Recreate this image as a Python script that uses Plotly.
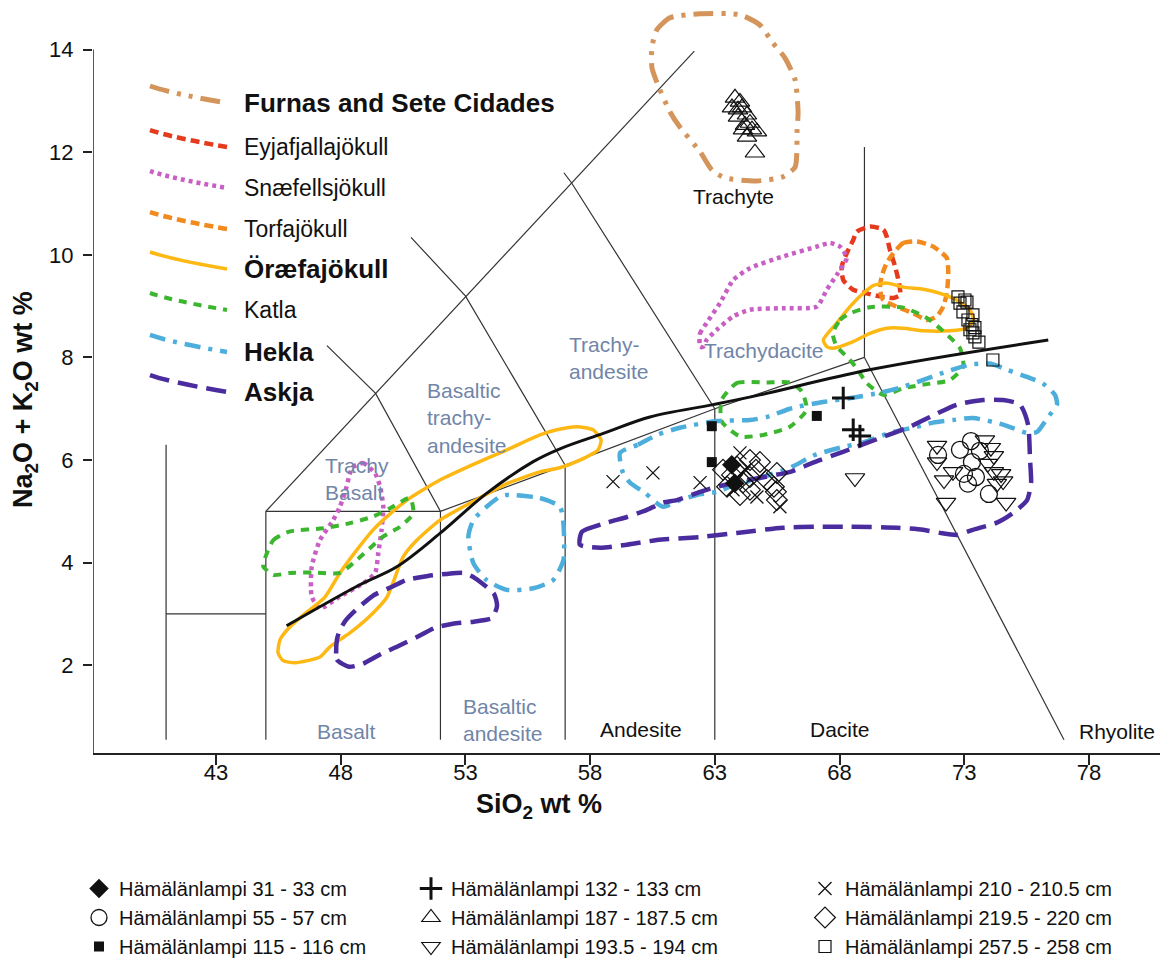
import plotly.graph_objects as go

# ------------------------------------------------------------------ data
X_RANGE = [38.07, 80.85]
Y_RANGE = [0.29, 14.85]
X_TICKS = [43, 48, 53, 58, 63, 68, 73, 78]
Y_TICKS = [2, 4, 6, 8, 10, 12, 14]

# TAS field boundaries (polylines)
TAS_X = [[41, 41], [41, 45], [45, 45], [45, 52], [52, 52], [57, 57], [63, 63],
         [52, 57, 63, 69], [69, 77.0], [69, 69], [45, 62.18],
         [47.45, 49.4, 52], [50.82, 53, 57], [56.95, 57.26, 63]]
TAS_Y = [[0.55, 6.3], [3, 3], [0.55, 5], [5, 5], [0.55, 5], [0.55, 5.9], [0.55, 7],
         [5, 5.9, 7, 8], [8, 0.55], [8, 12.1], [5, 13.97],
         [8.23, 7.3, 5], [10.34, 9.2, 5.9], [11.60, 11.40, 7]]

# alkaline / sub-alkaline divide
ALK_X = [45.83, 48.77, 50.25, 51.98, 53.85, 55.72, 56.79, 58.53, 60.40, 62.93, 64.81, 69.20, 76.37]
ALK_Y = [2.77, 3.57, 3.92, 4.57, 5.35, 5.97, 6.22, 6.52, 6.84, 7.08, 7.27, 7.76, 8.34]

# volcanic-system envelopes
FURNAS_X = [62.41, 61.20, 60.68, 60.48, 60.48, 60.72, 61.20, 61.60, 62.41, 62.89, 63.41, 64.69, 65.73,
            66.22, 66.30, 66.34, 66.22, 65.81, 65.33, 64.81, 64.01]
FURNAS_Y = [14.70, 14.62, 14.39, 14.05, 13.65, 13.31, 12.79, 12.49, 12.01, 11.65, 11.50, 11.44, 11.52,
            11.71, 12.44, 12.77, 13.41, 13.84, 14.13, 14.48, 14.68]

EYJA_X = [68.69, 69.22, 69.76, 69.89, 70.02, 70.23, 70.36, 70.43, 70.16, 69.62, 69.09, 68.55, 68.15,
          68.09, 68.29, 68.55]
EYJA_Y = [10.45, 10.55, 10.49, 10.36, 10.10, 9.77, 9.51, 9.22, 9.16, 9.19, 9.25, 9.32, 9.51,
          9.77, 10.03, 10.29]

SNAEF_UP_X = [62.41, 62.41, 62.67, 63.21, 63.74, 64.41, 65.75, 67.09, 67.62, 68.02, 68.29, 67.89,
              67.49, 67.09, 65.75, 64.41, 63.74, 63.08, 62.67, 62.54]
SNAEF_UP_Y = [8.21, 8.47, 8.67, 9.06, 9.51, 9.74, 9.97, 10.16, 10.23, 10.16, 9.94, 9.61,
              9.32, 8.99, 8.96, 8.93, 8.80, 8.54, 8.34, 8.21]
SNAEF_LO_X = [48.51, 48.91, 49.38, 49.58, 49.71, 49.64, 49.51, 49.38, 48.91, 47.97, 47.17, 46.84,
              46.84, 47.17, 47.70, 47.97, 48.24, 48.37]
SNAEF_LO_Y = [5.87, 5.94, 5.74, 5.48, 5.09, 4.64, 4.19, 3.80, 3.60, 3.34, 3.11, 3.34,
              3.92, 4.44, 4.83, 5.09, 5.48, 5.74]

TORFA_X = [70.16, 70.56, 71.10, 71.76, 72.30, 72.36, 72.30, 72.16, 71.90, 71.50, 70.96, 70.29,
           69.76, 69.62, 69.69, 69.89]
TORFA_Y = [10.03, 10.23, 10.26, 10.16, 9.94, 9.64, 9.25, 8.99, 8.80, 8.73, 8.86, 8.99,
           9.12, 9.32, 9.58, 9.84]

ORAEFA_UP_X = [67.35, 67.89, 68.42, 68.95, 69.35, 69.89, 70.56, 71.36, 72.03, 72.70, 73.23, 73.36,
               73.10, 72.43, 71.36, 70.56, 69.89, 69.22, 68.55, 67.75, 67.49]
ORAEFA_UP_Y = [8.34, 8.67, 8.99, 9.25, 9.40, 9.45, 9.37, 9.33, 9.25, 9.12, 8.93, 8.73,
               8.57, 8.52, 8.52, 8.57, 8.57, 8.47, 8.31, 8.18, 8.21]
ORAEFA_LO_X = [45.57, 45.97, 46.65, 47.37, 47.97, 48.65, 49.30, 49.70, 50.66, 51.98, 53.30, 54.67,
               55.99, 56.67, 57.47, 58.12, 58.44, 58.32, 57.59, 56.79, 55.99, 54.67, 53.30, 51.98,
               51.06, 50.50, 50.10, 49.86, 49.30, 48.37, 47.57, 47.17, 46.17, 45.69, 45.49]
ORAEFA_LO_Y = [2.50, 2.75, 3.04, 3.33, 3.80, 4.25, 4.64, 4.83, 5.22, 5.61, 5.91, 6.20,
               6.49, 6.59, 6.65, 6.59, 6.39, 6.20, 6.00, 5.85, 5.77, 5.54, 5.19, 4.83,
               4.44, 4.11, 3.61, 3.33, 3.02, 2.63, 2.36, 2.16, 2.05, 2.09, 2.24]

KATLA_UP_X = [67.73, 68.02, 68.42, 69.22, 70.56, 71.50, 72.16, 72.83, 72.96, 72.43, 71.50, 70.56,
              69.76, 69.09, 68.69, 68.29, 67.89]
KATLA_UP_Y = [8.47, 8.73, 8.86, 8.98, 8.97, 8.77, 8.51, 8.18, 7.82, 7.56, 7.48, 7.40,
              7.27, 7.50, 7.79, 8.02, 8.21]
KATLA_MID_X = [63.27, 63.88, 65.08, 66.01, 66.48, 66.68, 66.01, 64.94, 64.01, 63.28]
KATLA_MID_Y = [7.17, 7.50, 7.51, 7.51, 7.34, 6.98, 6.65, 6.49, 6.46, 6.75]
KATLA_LO_X = [44.90, 45.30, 45.97, 47.30, 48.37, 49.31, 49.98, 50.78, 50.91, 50.38, 49.71, 48.64,
              47.97, 46.90, 45.97, 45.30, 44.90]
KATLA_LO_Y = [3.99, 4.44, 4.61, 4.67, 4.77, 4.90, 5.06, 5.26, 4.96, 4.70, 4.51, 4.05,
              3.80, 3.81, 3.80, 3.76, 3.92]

HEKLA_SM_X = [54.66, 55.99, 56.79, 56.93, 56.93, 56.52, 55.72, 54.66, 53.85, 53.32, 53.12, 53.32,
              53.85, 54.39]
HEKLA_SM_Y = [5.32, 5.26, 5.09, 4.77, 4.05, 3.66, 3.50, 3.47, 3.66, 3.99, 4.51, 4.83,
              5.09, 5.29]
HEKLA_BIG_X = [59.20, 59.92, 60.68, 61.60, 63.09, 64.41, 65.09, 66.14, 67.34, 68.70, 69.62, 70.43,
               71.11, 72.15, 73.23, 74.03, 74.72, 75.52, 76.16, 76.64, 76.72, 76.36, 75.92, 75.52,
               74.56, 73.35, 72.55, 71.75, 71.11, 70.02, 68.94, 68.02, 67.02, 66.01, 64.81, 63.61,
               63.09, 62.29, 61.60, 60.92, 60.20, 59.60, 59.32]
HEKLA_BIG_Y = [6.14, 6.30, 6.49, 6.63, 6.76, 6.78, 6.84, 7.02, 7.13, 7.23, 7.31, 7.41,
               7.52, 7.70, 7.86, 7.88, 7.76, 7.62, 7.49, 7.27, 7.08, 6.84, 6.55, 6.53,
               6.69, 6.82, 6.78, 6.73, 6.65, 6.53, 6.34, 6.24, 6.10, 5.85, 5.65, 5.48,
               5.38, 5.32, 5.22, 5.09, 5.36, 5.56, 5.75]

ASKJA_SM_X = [47.85, 47.85, 48.33, 48.89, 49.62, 50.34, 51.06, 51.78, 52.50, 53.34, 54.07, 54.27,
              54.15, 53.38, 52.94, 52.22, 51.50, 50.62, 50.06, 49.34, 48.61, 48.21, 47.97]
ASKJA_SM_Y = [2.50, 2.11, 1.97, 2.03, 2.22, 2.38, 2.55, 2.73, 2.81, 2.85, 2.92, 3.16,
              3.39, 3.70, 3.80, 3.78, 3.74, 3.66, 3.53, 3.37, 3.08, 2.88, 2.69]
ASKJA_BIG_X = [57.59, 57.67, 58.68, 59.48, 60.28, 60.92, 61.48, 62.41, 62.93, 64.29, 66.03, 66.94,
               68.14, 69.74, 70.83, 71.63, 72.71, 73.75, 74.56, 75.24, 75.56, 75.64, 75.68, 75.52,
               74.96, 74.31, 73.35, 72.71, 72.03, 71.35, 70.31, 68.42, 67.12, 65.73, 63.89, 62.41,
               60.68, 59.48, 58.40]
ASKJA_BIG_Y = [4.35, 4.60, 4.78, 4.89, 5.03, 5.17, 5.22, 5.38, 5.46, 5.61, 5.77, 5.95,
               6.16, 6.45, 6.65, 6.84, 7.08, 7.17, 7.17, 7.08, 6.69, 6.00, 5.56, 5.22,
               4.97, 4.78, 4.64, 4.54, 4.58, 4.64, 4.68, 4.70, 4.70, 4.68, 4.58, 4.50,
               4.44, 4.35, 4.29]

VOLCANO_NAMES = ["Furnas and Sete Cidades", "Eyjafjallajökull", "Snæfellsjökull", "Torfajökull",
                 "Öræfajökull", "Katla", "Hekla", "Askja"]
VOLCANO_BOLD = [True, False, False, False, True, False, True, True]
VOLCANO_PIECES = [
    [(FURNAS_X, FURNAS_Y)],
    [(EYJA_X, EYJA_Y)],
    [(SNAEF_UP_X, SNAEF_UP_Y), (SNAEF_LO_X, SNAEF_LO_Y)],
    [(TORFA_X, TORFA_Y)],
    [(ORAEFA_UP_X, ORAEFA_UP_Y), (ORAEFA_LO_X, ORAEFA_LO_Y)],
    [(KATLA_UP_X, KATLA_UP_Y), (KATLA_MID_X, KATLA_MID_Y), (KATLA_LO_X, KATLA_LO_Y)],
    [(HEKLA_SM_X, HEKLA_SM_Y), (HEKLA_BIG_X, HEKLA_BIG_Y)],
    [(ASKJA_SM_X, ASKJA_SM_Y), (ASKJA_BIG_X, ASKJA_BIG_Y)],
]

# tephra samples (Hämälänlampi)
S31_X = [63.68, 63.80]
S31_Y = [5.91, 5.55]
S55_X = [71.95, 72.83, 73.27, 73.63, 73.31, 72.99, 73.47, 73.15, 73.99]
S55_Y = [6.10, 6.20, 6.37, 6.18, 5.96, 5.73, 5.67, 5.54, 5.34]
S115_X = [62.88, 62.88, 67.09]
S115_Y = [6.66, 5.96, 6.86]
S132_X = [68.15, 68.55, 68.82]
S132_Y = [7.21, 6.59, 6.47]
S187_X = [63.81, 64.01, 63.69, 64.09, 64.29, 63.93, 64.41, 64.13, 64.49, 64.69, 64.29, 64.61, 63.93, 64.21]
S187_Y = [13.06, 12.98, 12.87, 12.87, 12.73, 12.69, 12.57, 12.44, 12.44, 12.40, 12.30, 11.99, 12.83, 12.53]
S193_X = [68.62, 71.91, 71.91, 72.19, 72.55, 72.27, 73.83, 74.07, 74.19, 73.95, 74.19, 74.48, 74.56, 74.31, 74.68]
S193_Y = [5.65, 6.28, 5.96, 5.61, 5.77, 5.17, 6.39, 6.24, 6.08, 5.93, 5.77, 5.73, 5.59, 5.54, 5.17]
S210_X = [58.92, 60.52, 62.41, 64.01, 63.89, 64.69, 65.61, 63.73, 64.21]
S210_Y = [5.58, 5.75, 5.56, 6.14, 5.65, 5.28, 5.09, 5.42, 5.81]
S219_X = [63.33, 63.89, 64.41, 64.81, 65.49, 64.41, 65.09, 65.37, 65.45, 65.49, 64.13, 63.69, 64.41, 63.49, 64.01, 64.65]
S219_Y = [5.81, 5.87, 6.00, 5.96, 5.75, 5.67, 5.61, 5.48, 5.38, 5.22, 5.56, 5.71, 5.42, 5.48, 5.32, 5.81]
S257_X = [72.75, 73.03, 73.11, 72.83, 72.95, 73.35, 73.15, 73.31, 73.43, 73.23, 73.35, 73.43, 73.59, 74.15]
S257_Y = [9.18, 9.12, 9.08, 9.06, 8.89, 8.83, 8.73, 8.64, 8.58, 8.54, 8.48, 8.40, 8.30, 7.95]

SAMPLE_NAMES = ["Hämälänlampi 31 - 33 cm", "Hämälänlampi 55 - 57 cm", "Hämälänlampi 115 - 116 cm",
                "Hämälänlampi 132 - 133 cm", "Hämälänlampi 187 - 187.5 cm", "Hämälänlampi 193.5 - 194 cm",
                "Hämälänlampi 210 - 210.5 cm", "Hämälänlampi 219.5 - 220 cm", "Hämälänlampi 257.5 - 258 cm"]
SAMPLE_DATA = [(S31_X, S31_Y), (S55_X, S55_Y), (S115_X, S115_Y), (S132_X, S132_Y), (S187_X, S187_Y),
               (S193_X, S193_Y), (S210_X, S210_Y), (S219_X, S219_Y), (S257_X, S257_Y)]

FIELD_LABELS = ["Trachyte", "Trachydacite", "Trachy-<br>andesite", "Basaltic<br>trachy-<br>andesite",
                "Trachy<br>Basalt", "Basalt", "Basaltic<br>andesite", "Andesite", "Dacite", "Rhyolite"]
FIELD_X = [63.73, 64.95, 57.07, 51.38, 47.29, 48.25, 52.82, 60.04, 68.02, 80.72]
FIELD_Y = [11.13, 8.13, 7.99, 6.82, 5.63, 0.70, 0.94, 0.74, 0.74, 0.70]

# ------------------------------------------------------------------ styles
FONT = "Liberation Sans, Arial, sans-serif"
BLUEGREY = "#7185A8"
VOLCANO_STYLE = [
    dict(color="#D4955C", width=5, dash="20px,8px,4px,8px,4px,8px"),
    dict(color="#E63A1F", width=4.5, dash="9px,5px"),
    dict(color="#C95FC5", width=4.5, dash="4px,4px"),
    dict(color="#F28A1E", width=4.5, dash="9px,5px"),
    dict(color="#FDB813", width=3.5, dash="solid"),
    dict(color="#3CB62E", width=4, dash="8px,7px"),
    dict(color="#4DAEDB", width=4.5, dash="16px,8px,4px,8px"),
    dict(color="#4A2C9E", width=4.5, dash="20px,9px"),
]
FIELD_ANCHOR = ["center", "center", "left", "left", "left", "center", "left", "center", "center", "right"]
FIELD_COLOR = ["#111", BLUEGREY, BLUEGREY, BLUEGREY, BLUEGREY, BLUEGREY, BLUEGREY, "#111", "#111", "#111"]

SAMPLE_MARKERS = [
    dict(symbol="diamond", size=15, color="#111"),
    dict(symbol="circle-open", size=17, color="#111", line=dict(width=1.3)),
    dict(symbol="square", size=10, color="#111"),
    dict(symbol="cross-thin-open", size=16, color="#111", line=dict(width=3)),
    dict(symbol="triangle-up-open", size=17, color="#111", line=dict(width=1.2)),
    dict(symbol="triangle-down-open", size=17, color="#111", line=dict(width=1.2)),
    dict(symbol="x-thin-open", size=13, color="#111", line=dict(width=1.3)),
    dict(symbol="diamond-open", size=16, color="#111", line=dict(width=1.2)),
    dict(symbol="square-open", size=12, color="#111", line=dict(width=1.2)),
]
SAMPLE_LEGEND = ["legend", "legend", "legend", "legend2", "legend2", "legend2", "legend3", "legend3", "legend3"]

# plot box in page pixels (for decorations)
L, T, W, H = 93, 6, 1067, 747


def pp(px, py):
    return (px - L) / W, (T + H - py) / H


fig = go.Figure()

for xs, ys in zip(TAS_X, TAS_Y):
    fig.add_trace(go.Scatter(x=xs, y=ys, mode="lines", line=dict(color="#333", width=1.2),
                             hoverinfo="skip", showlegend=False))

for name, pieces, st in zip(VOLCANO_NAMES, VOLCANO_PIECES, VOLCANO_STYLE):
    for xs, ys in pieces:
        fig.add_trace(go.Scatter(x=list(xs) + [xs[0]], y=list(ys) + [ys[0]], mode="lines", name=name,
                                 line=dict(color=st["color"], width=st["width"], dash=st["dash"],
                                           shape="spline", smoothing=0.6),
                                 legendgroup=name, showlegend=False))

fig.add_trace(go.Scatter(x=ALK_X, y=ALK_Y, mode="lines", line=dict(color="#111", width=3, shape="spline"),
                         showlegend=False, hoverinfo="skip"))

order = [1, 2, 4, 5, 6, 7, 8, 0, 3]  # filled marks drawn last
for i in order:
    xs, ys = SAMPLE_DATA[i]
    fig.add_trace(go.Scatter(x=xs, y=ys, mode="markers", name=SAMPLE_NAMES[i], marker=SAMPLE_MARKERS[i],
                             legend=SAMPLE_LEGEND[i], legendrank=i, showlegend=True))

# y axis line only up to 14
fig.add_shape(type="line", xref="x", yref="y", x0=X_RANGE[0], x1=X_RANGE[0], y0=Y_RANGE[0], y1=14,
              line=dict(color="#222", width=1.5))

# field labels
for txt, x, y, anc, col in zip(FIELD_LABELS, FIELD_X, FIELD_Y, FIELD_ANCHOR, FIELD_COLOR):
    fig.add_annotation(x=x, y=y, xref="x", yref="y", text=txt, showarrow=False, xanchor=anc,
                       yanchor="middle", align=anc,
                       font=dict(family=FONT, size=21, color=col))

# in-plot legend for volcanic systems
ROW_Y = [103, 147, 188, 229, 269, 310, 352, 392]
for name, bold, st, yc in zip(VOLCANO_NAMES, VOLCANO_BOLD, VOLCANO_STYLE, ROW_Y):
    x0, y0 = pp(150, yc - 17)
    cx, cy = pp(172, yc - 9.4)
    x1, y1 = pp(227, yc)
    fig.add_shape(type="path", xref="paper", yref="paper",
                  path=f"M{x0:.4f},{y0:.4f} Q{cx:.4f},{cy:.4f} {x1:.4f},{y1:.4f}",
                  line=dict(color=st["color"], width=st["width"], dash=st["dash"]))
    tx, ty = pp(242, yc)
    fig.add_annotation(x=tx, y=ty, xref="paper", yref="paper", showarrow=False, xanchor="left",
                       yanchor="middle", text=f"<b>{name}</b>" if bold else name,
                       font=dict(family=FONT, size=26 if bold else 23, color="#111"))

# axis titles
ax, ay = pp(539, 806)
fig.add_annotation(x=ax, y=ay, xref="paper", yref="paper", showarrow=False, xanchor="center",
                   yanchor="middle", text="<b>SiO<sub>2</sub> wt %</b>",
                   font=dict(family=FONT, size=27, color="#111"))
ax, ay = pp(25, 400)
fig.add_annotation(x=ax, y=ay, xref="paper", yref="paper", showarrow=False, textangle=-90,
                   xanchor="center", yanchor="middle",
                   text="<b>Na<sub>2</sub>O + K<sub>2</sub>O wt %</b>",
                   font=dict(family=FONT, size=27, color="#111"))

legend_common = dict(yanchor="top", xanchor="left", bgcolor="rgba(0,0,0,0)", borderwidth=0,
                     font=dict(family=FONT, size=20, color="#111"), itemwidth=30,
                     orientation="v", tracegroupgap=0)
lx1, ly = pp(79, 869)
lx2, _ = pp(411, 869)
lx3, _ = pp(805, 869)

fig.update_layout(
    width=1162, height=962,
    margin=dict(l=L, r=1162 - L - W, t=T, b=962 - T - H, autoexpand=False),
    paper_bgcolor="white", plot_bgcolor="white",
    font=dict(family=FONT, color="#111"),
    xaxis=dict(range=X_RANGE, tickvals=X_TICKS, ticks="outside", ticklen=10, tickwidth=1.5,
               tickcolor="#222", showline=True, linecolor="#222", linewidth=1.5, showgrid=False,
               zeroline=False, ticklabelstandoff=-11,
               tickfont=dict(family=FONT, size=22, color="#111")),
    yaxis=dict(range=Y_RANGE, tickvals=Y_TICKS, ticks="outside", ticklen=9, tickwidth=1.5,
               tickcolor="#222", showline=False, showgrid=False, zeroline=False, ticklabelstandoff=5,
               tickfont=dict(family=FONT, size=22, color="#111")),
    legend=dict(x=lx1, y=ly, **legend_common),
    legend2=dict(x=lx2, y=ly, **legend_common),
    legend3=dict(x=lx3, y=ly, **legend_common),
)

fig.write_html("out.html", config={"displayModeBar": False},
               post_script="document.body.style.margin='0px';document.body.style.overflow='hidden';")
